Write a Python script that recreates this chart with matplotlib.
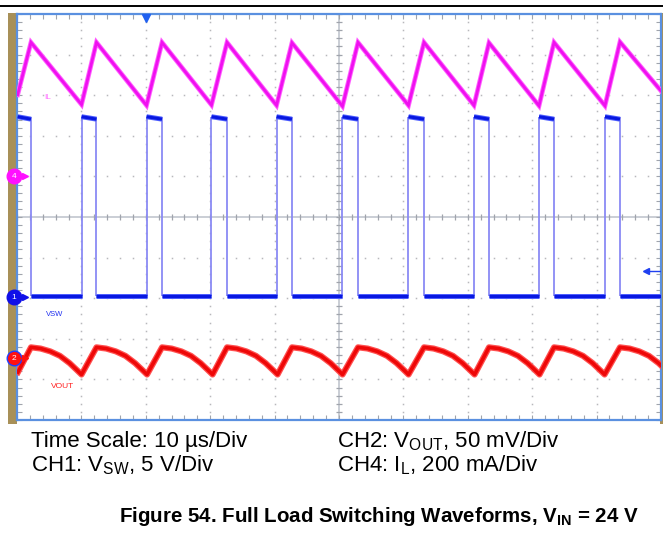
import numpy as np
import matplotlib.pyplot as plt

plt.rcParams['font.family'] = ['Liberation Sans', 'DejaVu Sans']
plt.rcParams['mathtext.fontset'] = 'custom'
plt.rcParams['mathtext.rm'] = 'Liberation Sans'
plt.rcParams['mathtext.bf'] = 'Liberation Sans:bold'

# time axis in us (10 us/div), vertical axis in scope divisions (0 = centre)
il_t = [0.1, 2.17, 10.02, 12.34, 20.11, 22.52, 30.2, 32.61, 40.3, 42.70,
        50.54, 52.95, 60.79, 63.20, 70.96, 73.29, 81.06, 83.39, 91.30, 93.63, 100.3]
il_v = [3.01, 4.30, 2.77, 4.30, 2.75, 4.30, 2.76, 4.30, 2.75, 4.29,
        2.73, 4.30, 2.75, 4.30, 2.75, 4.29, 2.74, 4.30, 2.74, 4.31, 3.05]

sw_rise = [10.02, 20.11, 30.2, 40.3, 50.54, 60.79, 70.96, 81.06, 91.30]
sw_fall = [2.17, 12.34, 22.52, 32.61, 42.70, 52.95, 63.20, 73.29, 83.39, 93.63]
sw_start = 0.1
sw_end = 100.0
sw_high = (2.47, 2.41)   # start / end of each on-pulse
sw_low = -1.95

vout_start = (0.15, -3.82)
vout_peak = -3.21
vout_fall_dt = [0.0, 1.5, 3.0, 4.5, 6.0, 7.0, 7.85]
vout_fall_drop = [0.0, 0.03, 0.10, 0.21, 0.39, 0.54, 0.67]

markers = [('4', 1.0, '#ff10ff', '#ff10ff'), ('1', -1.98, '#1010e8', '#1010e8'),
           ('2', -3.48, '#ff1010', '#2040ff')]

fig = plt.figure(figsize=(6.63, 5.38), dpi=100)
W, H = 663, 538


def fx(px):
    return px / W


def fy(py):
    return 1 - py / H


# top rule and brown side strips
fig.add_artist(plt.Line2D([0, 1], [fy(6), fy(6)], color='black', lw=1.4))
fig.add_artist(plt.Rectangle((fx(8), fy(424)), fx(9), (424 - 13) / H,
                             color='#a89058', lw=0, zorder=-1))
fig.add_artist(plt.Rectangle((fx(660), fy(424)), fx(3), (424 - 13) / H,
                             color='#a89058', lw=0, zorder=-1))

ax = fig.add_axes([fx(17), fy(420), 644 / W, (420 - 14) / H])
ax.set_xlim(0, 100)
ax.set_ylim(-5, 5)
for s in ax.spines.values():
    s.set_color('#5a90e0')
    s.set_linewidth(1.6)
ax.set_xticks(np.arange(0, 101, 2))
ax.set_yticks(np.arange(-5, 5.01, 0.2))
ax.tick_params(direction='in', length=3.5, width=0.8, color='#a0a4ac',
               top=True, right=True, labelbottom=False, labelleft=False)

# dotted graticule
ys = np.arange(-5, 5.01, 0.2)
xs = np.arange(0, 100.1, 2)
for gx in range(10, 100, 10):
    if gx != 50:
        ax.plot([gx] * len(ys), ys, ls='none', marker='s', ms=1.1,
                color='#b8b8bc', mew=0)
for gy in range(-4, 5):
    if gy != 0:
        ax.plot(xs, [gy] * len(xs), ls='none', marker='s', ms=1.1,
                color='#b8b8bc', mew=0)
ax.axhline(0, color='#c6cad2', lw=1.3, zorder=1)
ax.axvline(50, color='#c6cad2', lw=1.3, zorder=1)
ax.plot(xs, [0] * len(xs), ls='none', marker='|', ms=5, color='#a0a4ac', mew=0.9)
ax.plot([50] * len(ys), ys, ls='none', marker='_', ms=5, color='#a0a4ac', mew=0.9)

# CH4: inductor current
ax.plot(il_t, il_v, color='#ff60ff', lw=3.4, solid_joinstyle='miter', zorder=3)
ax.plot(il_t, il_v, color='#f010f0', lw=2.0, solid_joinstyle='miter', zorder=3)

# CH1: switch node
ax.vlines(sw_rise + sw_fall, sw_low, sw_high[0], color='#8a8af4', lw=1.3, zorder=3)
on_t = [sw_start] + sw_rise
off_t = sw_fall
hx, hy, lx, ly = [], [], [], []
for a, b in zip(on_t, off_t):
    hx += [a, b, np.nan]
    hy += [sw_high[0], sw_high[1], np.nan]
for a, b in zip(off_t, sw_rise + [sw_end]):
    lx += [a, b, np.nan]
    ly += [sw_low, sw_low, np.nan]
for xx, yy in ((hx, hy), (lx, ly)):
    ax.plot(xx, yy, color='#5060ff', lw=3.6, zorder=4, solid_capstyle='butt')
    ax.plot(xx, yy, color='#0818e0', lw=2.2, zorder=4, solid_capstyle='butt')

# CH2: output voltage
vx, vy = [vout_start[0]], [vout_start[1]]
for p in sw_fall:
    for dt, dv in zip(vout_fall_dt, vout_fall_drop):
        vx.append(p + dt)
        vy.append(vout_peak - dv)
ax.plot(vx, vy, color='#ff5050', lw=4.4, zorder=3)
ax.plot(vx, vy, color='#ee0808', lw=2.6, zorder=3)

# channel labels
ax.text(4.2, 2.9, 'IL', color='#ff70ff', fontsize=6)
ax.text(4.5, -2.45, 'VSW', color='#2030f0', fontsize=5.5)
ax.text(5.2, -4.2, 'VOUT', color='#ff2020', fontsize=6)

# ground markers on the left edge
for lab, yv, fc, ec in markers:
    ax.plot([-0.45], [yv], marker='o', ms=10.5, mfc=fc, mec=ec, mew=1.0,
            clip_on=False, zorder=6)
    ax.text(-0.45, yv, lab, color='white', fontsize=6, ha='center',
            va='center', clip_on=False, zorder=7)
    ax.plot([0.6, 1.2], [yv, yv], color=fc, lw=1, clip_on=False, zorder=6)
    ax.plot([1.2], [yv], marker='>', ms=4, color=fc, clip_on=False, zorder=6)

# trigger markers
ax.plot([20.0], [4.9], marker='v', ms=6, color='#2060f0', clip_on=False, zorder=6)
ax.plot([97.6, 100], [-1.33, -1.33], color='#2040f0', lw=1, zorder=6)
ax.plot([97.6], [-1.33], marker='<', ms=5, color='#2040f0', zorder=6)

# captions
cap = dict(fontsize=16, va='center', color='black')
fig.text(fx(31), fy(441), r'Time Scale: 10 µs/Div', **cap)
fig.text(fx(31), fy(465), r'CH1: V$_{\mathregular{SW}}$, 5 V/Div', **cap)
fig.text(fx(337), fy(441), r'CH2: V$_{\mathregular{OUT}}$, 50 mV/Div', **cap)
fig.text(fx(337), fy(465), r'CH4: I$_{\mathregular{L}}$, 200 mA/Div', **cap)
fig.text(fx(119), fy(517),
         r'Figure 54. Full Load Switching Waveforms, V$_{\mathbf{IN}}$ = 24 V',
         fontsize=14.8, fontweight='bold', va='center')

fig.savefig('out.png', dpi=100)
